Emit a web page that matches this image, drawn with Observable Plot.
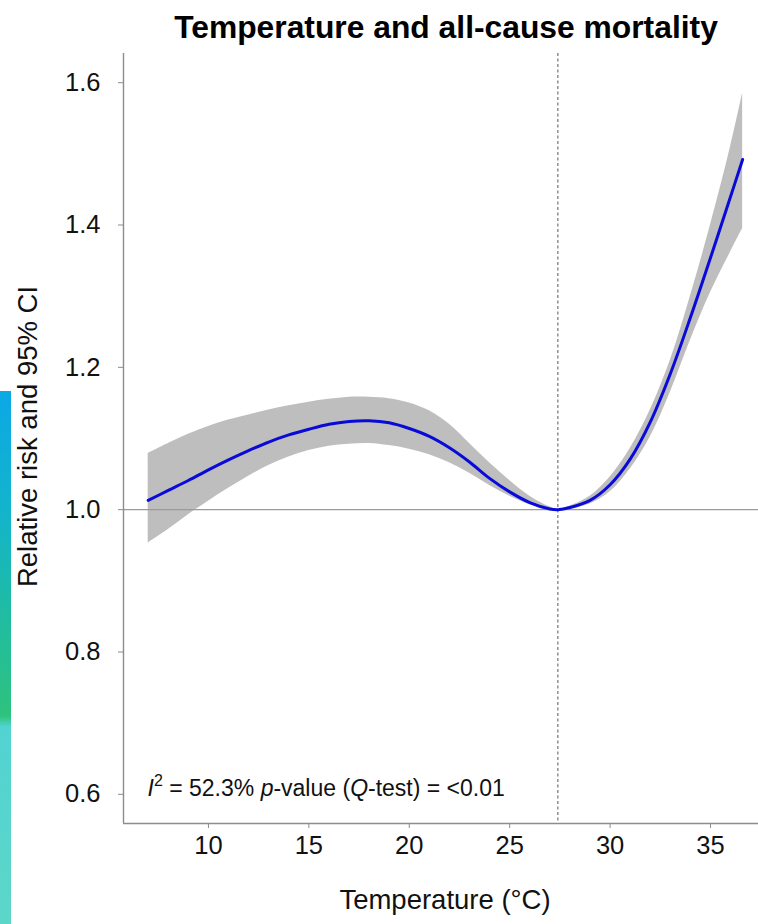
<!DOCTYPE html>
<html>
<head>
<meta charset="utf-8">
<script src="https://cdn.jsdelivr.net/npm/d3@7"></script>
<script src="https://cdn.jsdelivr.net/npm/@observablehq/plot@0.6"></script>
<style>
html, body { margin: 0; padding: 0; background: #fff; overflow: hidden; }
#wrap { position: relative; width: 758px; height: 924px; font-family: "Liberation Sans", Arial, Helvetica, sans-serif; }
#wrap svg { position: absolute; left: 0; top: 0; background: transparent; }
#title { position: absolute; top: 12px; left: 446px; transform: translateX(-50%); white-space: nowrap; font-weight: bold; font-size: 31.8px; line-height: 31px; color: #000; z-index: 2; }
#strip { position: absolute; left: 0; top: 391px; width: 11px; height: 533px; z-index: 1;
  background: linear-gradient(to bottom, #0ba8e6 0%, #12b4cc 22%, #22bd9c 45%, #2dc280 60%, #2fc47c 61%, #52d3d2 63%, #5cd6c8 100%); }
[aria-label="x-axis tick"], [aria-label="y-axis tick"] { stroke: #8c8c8c; }
[aria-label="x-axis tick label"], [aria-label="y-axis tick label"],
[aria-label="x-axis tick label"] text, [aria-label="y-axis tick label"] text { font-size: 25.5px !important; fill: #111; }
</style>
</head>
<body>
<div id="wrap"><div id="strip"></div><div id="title"></div></div>
<script>
// ---- Data ----
const titleText = "Temperature and all-cause mortality";
const xLabel = "Temperature (°C)";
const yLabel = "Relative risk and 95% CI";
const annotation = "I2 = 52.3% p-value (Q-test) = <0.01";

const temps = [7, 8, 9, 10, 11, 12, 13, 14, 15, 16, 17, 18, 19, 20, 21, 22, 23, 24, 25, 26, 27, 27.4, 28, 29, 30, 31, 32, 33, 34, 35, 36, 36.6];
const rr    = [1.013, 1.027, 1.041, 1.056, 1.070, 1.083, 1.095, 1.105, 1.113, 1.120, 1.124, 1.125, 1.122, 1.114, 1.103, 1.087, 1.067, 1.044, 1.025, 1.010, 1.001, 1.000, 1.003, 1.013, 1.035, 1.071, 1.123, 1.191, 1.270, 1.354, 1.440, 1.492];
const upper = [1.079, 1.093, 1.106, 1.117, 1.126, 1.133, 1.140, 1.146, 1.151, 1.155, 1.158, 1.158, 1.156, 1.150, 1.139, 1.120, 1.093, 1.066, 1.041, 1.019, 1.004, 1.000, 1.005, 1.019, 1.046, 1.086, 1.140, 1.210, 1.300, 1.400, 1.510, 1.585];
const lower = [0.953, 0.972, 0.993, 1.012, 1.030, 1.047, 1.062, 1.074, 1.083, 1.089, 1.092, 1.093, 1.090, 1.085, 1.077, 1.066, 1.051, 1.034, 1.019, 1.007, 1.000, 1.000, 1.001, 1.008, 1.025, 1.057, 1.102, 1.165, 1.238, 1.305, 1.362, 1.395];

const xTicks = [10, 15, 20, 25, 30, 35];
const yTicks = [0.6, 0.8, 1.0, 1.2, 1.4, 1.6];
const xDomain = [5.77, 37.39];
const yDomain = [0.559, 1.641];
const refRR = 1.0;
const refTemp = 27.4;

const data = temps.map((t, i) => ({t, rr: rr[i], lo: lower[i], hi: upper[i]}));

document.getElementById("title").textContent = titleText;

const chart = Plot.plot({
  width: 758,
  height: 924,
  marginLeft: 123,
  marginRight: 0,
  marginTop: 53,
  marginBottom: 101,
  style: {fontFamily: '"Liberation Sans", Arial, Helvetica, sans-serif', fontSize: "25.5px", color: "#111", background: "transparent", overflow: "visible"},
  x: {domain: xDomain, ticks: xTicks, tickSize: 5, tickPadding: 6.9, label: null},
  y: {domain: yDomain, ticks: yTicks, tickSize: 5, tickPadding: 18, tickFormat: d3.format(".1f"), label: null},
  marks: [
    Plot.areaY(data, {x: "t", y1: "lo", y2: "hi", fill: "#bebebe", curve: "catmull-rom"}),
    Plot.ruleY([refRR], {stroke: "#9a9a9a", strokeWidth: 1.4}),
    Plot.ruleX([refTemp], {stroke: "#555", strokeWidth: 1, strokeDasharray: "3,2.5"}),
    Plot.lineY(data, {x: "t", y: "rr", stroke: "#0a0ad8", strokeWidth: 3, curve: "catmull-rom"}),
    Plot.ruleY([yDomain[0]], {stroke: "#8c8c8c", strokeWidth: 1.4}),
    Plot.ruleX([xDomain[0]], {stroke: "#8c8c8c", strokeWidth: 1.4}),
    Plot.text([annotation], {frameAnchor: "bottom-left", dx: 24, dy: -28, textAnchor: "start", fontSize: 23, fill: "#111"}),
    Plot.text([xLabel], {frameAnchor: "bottom", dx: 4, dy: 85, textAnchor: "middle", fontSize: 27.5, fill: "#111"}),
    Plot.text([yLabel], {frameAnchor: "left", dx: -95.3, dy: -2, rotate: -90, textAnchor: "middle", fontSize: 27.5, fill: "#111"})
  ]
});

document.getElementById("wrap").appendChild(chart);

// rich formatting of the annotation (italic I, superscript 2, italic p and Q)
d3.select(chart).selectAll("text").each(function() {
  if (this.textContent === annotation) {
    const t = d3.select(this);
    t.text(null);
    t.append("tspan").attr("font-style", "italic").text("I");
    t.append("tspan").attr("dy", -10).attr("font-size", 16).text("2");
    t.append("tspan").attr("dy", 10).text(" = 52.3% ");
    t.append("tspan").attr("font-style", "italic").text("p");
    t.append("tspan").text("-value (");
    t.append("tspan").attr("font-style", "italic").text("Q");
    t.append("tspan").text("-test) = <0.01");
  }
});
</script>
</body>
</html>
